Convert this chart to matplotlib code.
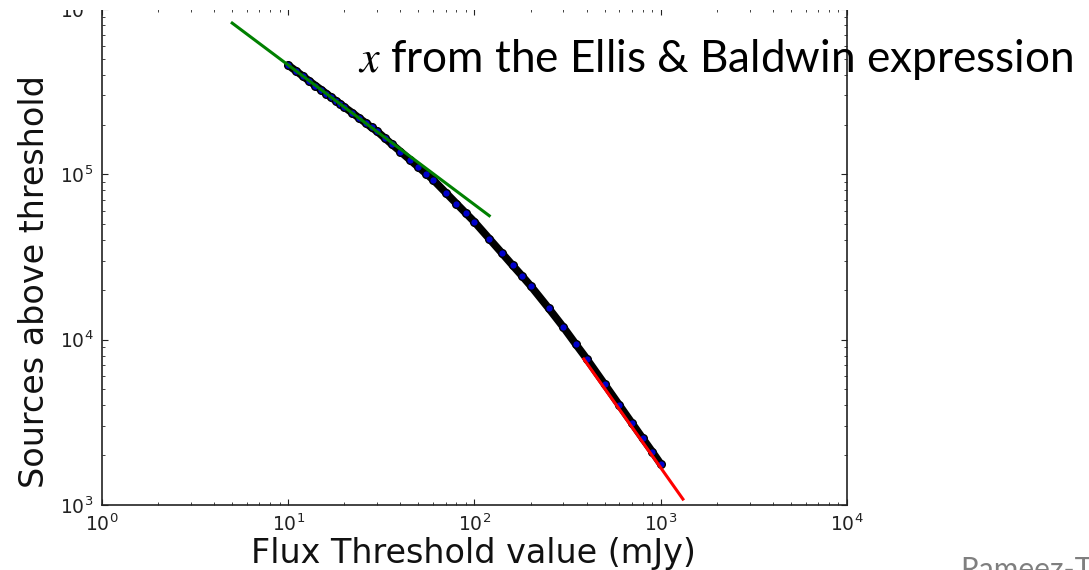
import matplotlib
matplotlib.use("Agg")
import matplotlib.pyplot as plt
from matplotlib.patches import Rectangle

# Cumulative source counts N(>S) versus flux threshold S
threshold_mjy = [10, 11, 12, 13, 14, 15, 16, 17, 18, 19, 20, 22, 24, 26, 28, 30,
                 33, 36, 40, 45, 50, 55, 60, 70, 80, 90, 100, 120, 140, 160, 180,
                 200, 250, 300, 350, 400, 500, 600, 700, 800, 900, 1000]
sources_above = [457000, 422000, 392000, 366000, 344000, 325000, 308000, 292000,
                 279000, 267000, 255000, 236000, 219000, 205000, 192000, 182000,
                 165600, 152000, 137400, 122500, 110600, 100900, 92700, 77600,
                 66500, 58100, 51500, 40800, 33500, 28200, 24300, 21200, 15500,
                 11900, 9380, 7670, 5370, 4010, 3130, 2530, 2100, 1770]

# Power-law fits: faint end (green) and bright end (red)
faint_fit_x = [5, 120]
faint_fit_y = [822000, 56200]
bright_fit_x = [386, 1315]
bright_fit_y = [7640, 1086]

x_limits = (1, 1e4)
y_limits = (1e3, 1e6)

x_label = "Flux Threshold value (mJy)"
y_label = "Sources above threshold"
caption = r"$x$ from the Ellis & Baldwin expression"
credit = "Rameez-T"

plt.rcParams["font.family"] = ["DejaVu Sans"]
plt.rcParams["mathtext.fontset"] = "dejavusans"
plt.rcParams["xtick.direction"] = "in"
plt.rcParams["ytick.direction"] = "in"
plt.rcParams["xtick.top"] = True
plt.rcParams["ytick.right"] = True
plt.rcParams["xtick.major.size"] = 4
plt.rcParams["ytick.major.size"] = 4
plt.rcParams["xtick.minor.size"] = 2
plt.rcParams["ytick.minor.size"] = 2

W, H = 1089, 570
fig = plt.figure(figsize=(W / 100, H / 100), dpi=100, facecolor="white")

left_px, right_px, bottom_px, top_px = 102, 847, 505, 9
ax = fig.add_axes([left_px / W, 1 - bottom_px / H,
                   (right_px - left_px) / W, (bottom_px - top_px) / H])

ax.set_xscale("log")
ax.set_yscale("log")

# Measured counts: thick dark band with blue, black-edged markers
ax.plot(threshold_mjy, sources_above, color="black", lw=5.5, solid_capstyle="round",
        zorder=2)
ax.plot(threshold_mjy, sources_above, "o", ms=5.5, mfc="#0000cc", mec="black",
        mew=1.0, zorder=3)

ax.plot(faint_fit_x, faint_fit_y, color="#008000", lw=2.2, zorder=4)
ax.plot(bright_fit_x, bright_fit_y, color="#ff0000", lw=2.2, zorder=4)

ax.set_xlim(*x_limits)
ax.set_ylim(*y_limits)

for side in ax.spines.values():
    side.set_linewidth(1.2)
    side.set_color("#222222")

ax.tick_params(which="both", labelsize=13.5, pad=6, colors="#222222")

ax.set_xlabel(x_label, fontsize=24, color="#111111")
ax.xaxis.label.set_va("baseline")
ax.xaxis.set_label_coords(0.4987, -0.117)

ax.set_ylabel(y_label, fontsize=24, color="#111111")
ax.yaxis.set_label_coords(-0.068, 0.45)

# White band across the very top of the figure
fig.patches.append(Rectangle((0, 1 - 9.5 / H), 1, 9.5 / H, transform=fig.transFigure,
                             facecolor="white", edgecolor="none", zorder=5))

fig.text(358 / W, 1 - 72 / H, caption, fontsize=31.8, family="Lato",
         math_fontfamily="stix", ha="left", va="baseline", color="black", zorder=6)

fig.text(960 / W, 1 - 579 / H, credit, fontsize=21.5, family="Lato",
         ha="left", va="baseline", color="#7f7f7f", zorder=6)

fig.savefig("out.png", dpi=100, facecolor="white")
